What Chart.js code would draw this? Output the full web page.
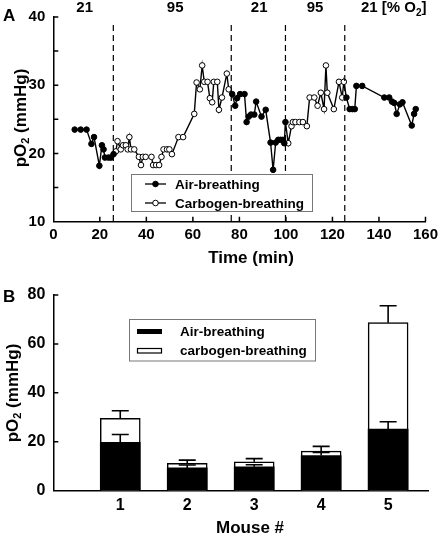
<!DOCTYPE html>
<html>
<head>
<meta charset="utf-8">
<script src="https://cdn.jsdelivr.net/npm/chart.js@4.4.1/dist/chart.umd.min.js"></script>
<style>
  body { margin: 0; background: #fff; }
  #wrap { position: relative; width: 442px; height: 535px; }
  canvas { position: absolute; left: 0; }
</style>
</head>
<body>
<div id="wrap">
  <canvas id="topChart" width="442" height="270" style="top:0"></canvas>
  <canvas id="barChart" width="442" height="265" style="top:270px"></canvas>
</div>
<script>
// panel A: time course
const airTime = [9.2, 11.8, 14.3, 16.4, 17.5, 19.8, 20.9, 21.6, 22.2, 23.7, 24.8, 25.9,
  76.9, 78.2, 79.0, 80.3, 82.2, 83.1, 84.0, 85.0, 86.4, 87.2, 89.5, 91.3, 93.4, 94.5, 95.6, 96.7, 97.7, 98.7, 99.3, 99.8,
  126.0, 127.4, 128.6, 129.6, 130.3, 132.8, 142.3, 144.4, 145.6, 146.6, 147.6, 149.0, 150.1, 154.1, 155.1, 155.8]
const airPO2 = [23.5, 23.5, 23.5, 21.4, 22.4, 18.2, 21.2, 20.6, 19.4, 19.4, 19.4, 19.9,
  28.7, 27.0, 28.1, 28.7, 28.7, 24.6, 25.4, 25.7, 25.7, 27.6, 25.4, 26.4, 21.6, 17.6, 21.6, 22.0, 22.0, 22.0, 21.5, 24.6,
  28.2, 26.5, 26.5, 26.5, 29.9, 29.9, 28.2, 28.2, 27.6, 27.4, 25.8, 27.2, 27.5, 24.1, 25.8, 26.5]
const carbTime = [26.9, 27.6, 29.0, 30.0, 31.2, 32.0, 32.7, 33.4, 34.8, 36.8, 37.7, 38.5, 39.7, 42.2, 42.9, 44.2,
  45.5, 46.5, 47.4, 48.9, 49.9, 51.0, 53.8, 55.8, 60.6, 61.6, 63.0, 64.0, 64.9, 66.3, 67.3, 68.3, 69.0, 70.5, 71.2,
  72.5, 74.6, 75.4,
  101.0, 102.4, 103.0, 104.1, 105.8, 107.3, 109.0, 110.2, 112.2, 113.6, 115.0, 116.4, 117.2, 117.8, 120.6, 122.8,
  124.2, 124.9]
const carbPO2 = [20.3, 21.8, 20.6, 21.2, 21.2, 20.6, 22.4, 20.6, 20.6, 19.5, 18.3, 19.5, 19.5, 19.5, 18.3, 18.3,
  18.3, 19.5, 20.6, 20.6, 20.6, 19.9, 22.4, 22.4, 25.8, 30.4, 29.4, 32.9, 30.5, 30.5, 28.1, 27.5, 30.5, 30.5, 26.4,
  28.2, 31.7, 29.4,
  21.5, 24.0, 24.6, 24.6, 24.6, 24.6, 24.0, 28.2, 28.2, 27.0, 28.9, 26.5, 32.9, 28.9, 26.5, 30.5,
  28.2, 30.5]
const switchTimes = [25.8, 76.5, 99.8, 125.3]
const o2Labels = ['21', '95', '21', '95', '21']
const o2LabelTimes = [13.5, 52.4, 88.5, 112.5, 134]

// panel B: per mouse
const mice = ['1', '2', '3', '4', '5']
const airMean = [19.8, 9.3, 9.8, 14.4, 25.2]
const airErr = [3.2, 1.2, 0.8, 1.2, 3.0]
const carbMean = [29.6, 11.2, 11.8, 16.2, 68.7]
const carbErr = [3.1, 1.3, 1.3, 1.9, 6.9]

const FONT = '"Liberation Sans", Arial, sans-serif'

function pts(xs, ys) {
  return xs.map((x, i) => ({ x: x, y: ys[i] }))
}

function drawPO2Title(ctx, cx, cy) {
  ctx.save()
  ctx.translate(cx, cy)
  ctx.rotate(-Math.PI / 2)
  ctx.fillStyle = '#000'
  ctx.textBaseline = 'middle'
  ctx.textAlign = 'left'
  const big = 'bold 17px ' + FONT
  const small = 'bold 11px ' + FONT
  ctx.font = big
  const w1 = ctx.measureText('pO').width
  const w3 = ctx.measureText(' (mmHg)').width
  ctx.font = small
  const w2 = ctx.measureText('2').width
  let x = -(w1 + w2 + w3) / 2
  ctx.font = big
  ctx.fillText('pO', x, 0)
  x += w1
  ctx.font = small
  ctx.fillText('2', x, 5)
  x += w2
  ctx.font = big
  ctx.fillText(' (mmHg)', x, 0)
  ctx.restore()
}

function inTicks(chart, xs, ys) {
  const ctx = chart.ctx
  const a = chart.chartArea
  ctx.save()
  ctx.strokeStyle = '#000'
  ctx.lineWidth = 1.5
  ctx.beginPath()
  xs.forEach((v) => {
    const px = chart.scales.x.getPixelForValue(v)
    ctx.moveTo(px, a.bottom)
    ctx.lineTo(px, a.bottom - 5)
  })
  ys.forEach((v) => {
    const py = chart.scales.y.getPixelForValue(v)
    ctx.moveTo(a.left, py)
    ctx.lineTo(a.left + 5, py)
  })
  ctx.stroke()
  ctx.restore()
}

const topDecor = {
  id: 'topDecor',
  afterDraw(chart) {
    const ctx = chart.ctx
    const a = chart.chartArea
    const xs = chart.scales.x
    inTicks(chart, [20, 40, 60, 80, 100, 120, 140, 160], [15, 20, 25, 30, 35, 40])

    // dashed switch lines
    ctx.save()
    ctx.strokeStyle = '#000'
    ctx.lineWidth = 1.2
    ctx.setLineDash([6, 4])
    switchTimes.forEach((t) => {
      const px = xs.getPixelForValue(t)
      ctx.beginPath()
      ctx.moveTo(px, a.top + 8)
      ctx.lineTo(px, a.bottom)
      ctx.stroke()
    })
    ctx.restore()

    // O2 labels on top
    ctx.save()
    ctx.fillStyle = '#000'
    ctx.font = 'bold 15px ' + FONT
    ctx.textBaseline = 'middle'
    ctx.textAlign = 'center'
    o2Labels.forEach((s, i) => {
      if (i < o2Labels.length - 1) ctx.fillText(s, xs.getPixelForValue(o2LabelTimes[i]), 8)
    })
    ctx.textAlign = 'left'
    let x = 361
    ctx.fillText('21 [% O', x, 8)
    x += ctx.measureText('21 [% O').width
    ctx.font = 'bold 10px ' + FONT
    ctx.fillText('2', x, 13)
    x += ctx.measureText('2').width
    ctx.font = 'bold 15px ' + FONT
    ctx.fillText(']', x, 8)

    // panel letter, titles
    ctx.font = 'bold 17px ' + FONT
    ctx.fillText('A', 3, 16)
    ctx.textAlign = 'center'
    ctx.fillText('Time (min)', 251, 258)
    ctx.restore()
    drawPO2Title(ctx, 21, 118)

    // legend
    ctx.save()
    ctx.fillStyle = '#fff'
    ctx.fillRect(131, 174, 182, 38)
    ctx.strokeStyle = '#777'
    ctx.lineWidth = 1
    ctx.strokeRect(131.5, 174.5, 181, 37)
    const rows = [
      { y: 184, fill: '#000', text: 'Air-breathing' },
      { y: 203, fill: '#fff', text: 'Carbogen-breathing' },
    ]
    rows.forEach((r) => {
      ctx.strokeStyle = '#000'
      ctx.lineWidth = 1.3
      ctx.beginPath()
      ctx.moveTo(145, r.y)
      ctx.lineTo(166, r.y)
      ctx.stroke()
      ctx.beginPath()
      ctx.arc(155.5, r.y, 2.8, 0, Math.PI * 2)
      ctx.fillStyle = r.fill
      ctx.fill()
      ctx.lineWidth = 1
      ctx.stroke()
      ctx.fillStyle = '#000'
      ctx.font = 'bold 13.5px ' + FONT
      ctx.textAlign = 'left'
      ctx.textBaseline = 'middle'
      ctx.fillText(r.text, 175, r.y + 1)
    })
    ctx.restore()
  },
}

const allPts = pts(airTime, airPO2).concat(pts(carbTime, carbPO2)).sort((p, q) => p.x - q.x)

new Chart(document.getElementById('topChart'), {
  type: 'scatter',
  data: {
    datasets: [
      {
        label: 'Air-breathing',
        data: pts(airTime, airPO2),
        pointRadius: 2.8,
        pointBackgroundColor: '#000',
        pointBorderColor: '#000',
        pointBorderWidth: 1,
      },
      {
        label: 'Carbogen-breathing',
        data: pts(carbTime, carbPO2),
        pointRadius: 2.8,
        pointBackgroundColor: '#fff',
        pointBorderColor: '#000',
        pointBorderWidth: 1,
      },
      {
        label: 'trace',
        data: allPts,
        showLine: true,
        borderColor: '#000',
        borderWidth: 1.4,
        pointRadius: 0,
      },
    ],
  },
  options: {
    responsive: false,
    animation: false,
    events: [],
    layout: { padding: { left: 0, right: 12, top: 13.5, bottom: 0 } },
    plugins: { legend: { display: false }, tooltip: { enabled: false } },
    scales: {
      x: {
        type: 'linear',
        min: 0,
        max: 160,
        afterFit: (s) => { s.height = 48.3 },
        grid: { display: false, drawTicks: false },
        border: { display: true, color: '#000', width: 1.5 },
        ticks: { stepSize: 20, color: '#000', padding: 4, maxRotation: 0, font: { family: FONT, size: 15, weight: 'bold' } },
      },
      y: {
        min: 10,
        max: 40,
        afterFit: (s) => { s.width = 53.3 },
        grid: { display: false, drawTicks: false },
        border: { display: true, color: '#000', width: 1.5 },
        ticks: {
          stepSize: 5,
          color: '#000',
          padding: 8,
          callback: (v) => (v % 10 === 0 ? v : ''),
          font: { family: FONT, size: 15, weight: 'bold' },
        },
      },
    },
  },
  plugins: [topDecor],
})

const barDecor = {
  id: 'barDecor',
  afterDatasetsDraw(chart) {
    const ctx = chart.ctx
    const xs = chart.scales.x
    const ys = chart.scales.y
    ctx.save()
    ctx.strokeStyle = '#000'
    ctx.lineWidth = 1.6
    const bars = [[airMean, airErr], [carbMean, carbErr]]
    bars.forEach(([m, e]) => {
      m.forEach((v, i) => {
        const px = xs.getPixelForValue(i + 1)
        const y0 = ys.getPixelForValue(v)
        const y1 = ys.getPixelForValue(v + e[i])
        ctx.beginPath()
        ctx.moveTo(px, y0)
        ctx.lineTo(px, y1)
        ctx.moveTo(px - 8.5, y1)
        ctx.lineTo(px + 8.5, y1)
        ctx.stroke()
      })
    })
    ctx.restore()
  },
  afterDraw(chart) {
    const ctx = chart.ctx
    inTicks(chart, [], [20, 40, 60, 80])
    ctx.save()
    ctx.fillStyle = '#000'
    ctx.font = 'bold 17px ' + FONT
    ctx.textBaseline = 'middle'
    ctx.textAlign = 'left'
    ctx.fillText('B', 3, 27)
    ctx.textAlign = 'center'
    ctx.fillText('Mouse #', 250, 258)
    ctx.restore()
    drawPO2Title(ctx, 13, 123)

    // legend
    ctx.save()
    ctx.fillStyle = '#fff'
    ctx.fillRect(129, 49, 186, 42)
    ctx.strokeStyle = '#777'
    ctx.lineWidth = 1
    ctx.strokeRect(129.5, 49.5, 186, 41.5)
    ctx.fillStyle = '#000'
    ctx.fillRect(137, 59, 25, 5)
    ctx.fillStyle = '#fff'
    ctx.fillRect(137, 78, 25, 5)
    ctx.strokeStyle = '#000'
    ctx.lineWidth = 1.2
    ctx.strokeRect(137.5, 78.5, 24, 4.5)
    ctx.fillStyle = '#000'
    ctx.font = 'bold 13.5px ' + FONT
    ctx.textBaseline = 'middle'
    ctx.fillText('Air-breathing', 180, 62)
    ctx.fillText('carbogen-breathing', 180, 81)
    ctx.restore()
  },
}

new Chart(document.getElementById('barChart'), {
  type: 'bar',
  data: {
    datasets: [
      {
        label: 'Air-breathing',
        data: airMean.map((v, i) => ({ x: +mice[i], y: v })),
        backgroundColor: '#000',
        borderWidth: 0,
        barThickness: 40,
        grouped: false,
      },
      {
        label: 'carbogen-breathing',
        data: carbMean.map((v, i) => ({ x: +mice[i], y: v })),
        backgroundColor: '#fff',
        borderColor: '#000',
        borderWidth: 1.5,
        borderSkipped: 'bottom',
        barThickness: 40,
        grouped: false,
      },
    ],
  },
  options: {
    responsive: false,
    animation: false,
    events: [],
    layout: { padding: { left: 0, right: 13.7, top: 25, bottom: 0 } },
    plugins: { legend: { display: false }, tooltip: { enabled: false } },
    scales: {
      x: {
        type: 'linear',
        min: 0,
        max: 5.6,
        offset: false,
        afterFit: (s) => { s.height = 44.3 },
        afterBuildTicks: (s) => { s.ticks = mice.map((m) => ({ value: +m })) },
        grid: { display: false, drawTicks: false },
        border: { display: true, color: '#000', width: 1.5 },
        ticks: { color: '#000', padding: 5, maxRotation: 0, font: { family: FONT, size: 16, weight: 'bold' } },
      },
      y: {
        min: 0,
        max: 80,
        afterFit: (s) => { s.width = 53.3 },
        grid: { display: false, drawTicks: false },
        border: { display: true, color: '#000', width: 1.5 },
        ticks: { stepSize: 20, color: '#000', padding: 8, font: { family: FONT, size: 16, weight: 'bold' } },
      },
    },
  },
  plugins: [barDecor],
})
</script>
</body>
</html>
